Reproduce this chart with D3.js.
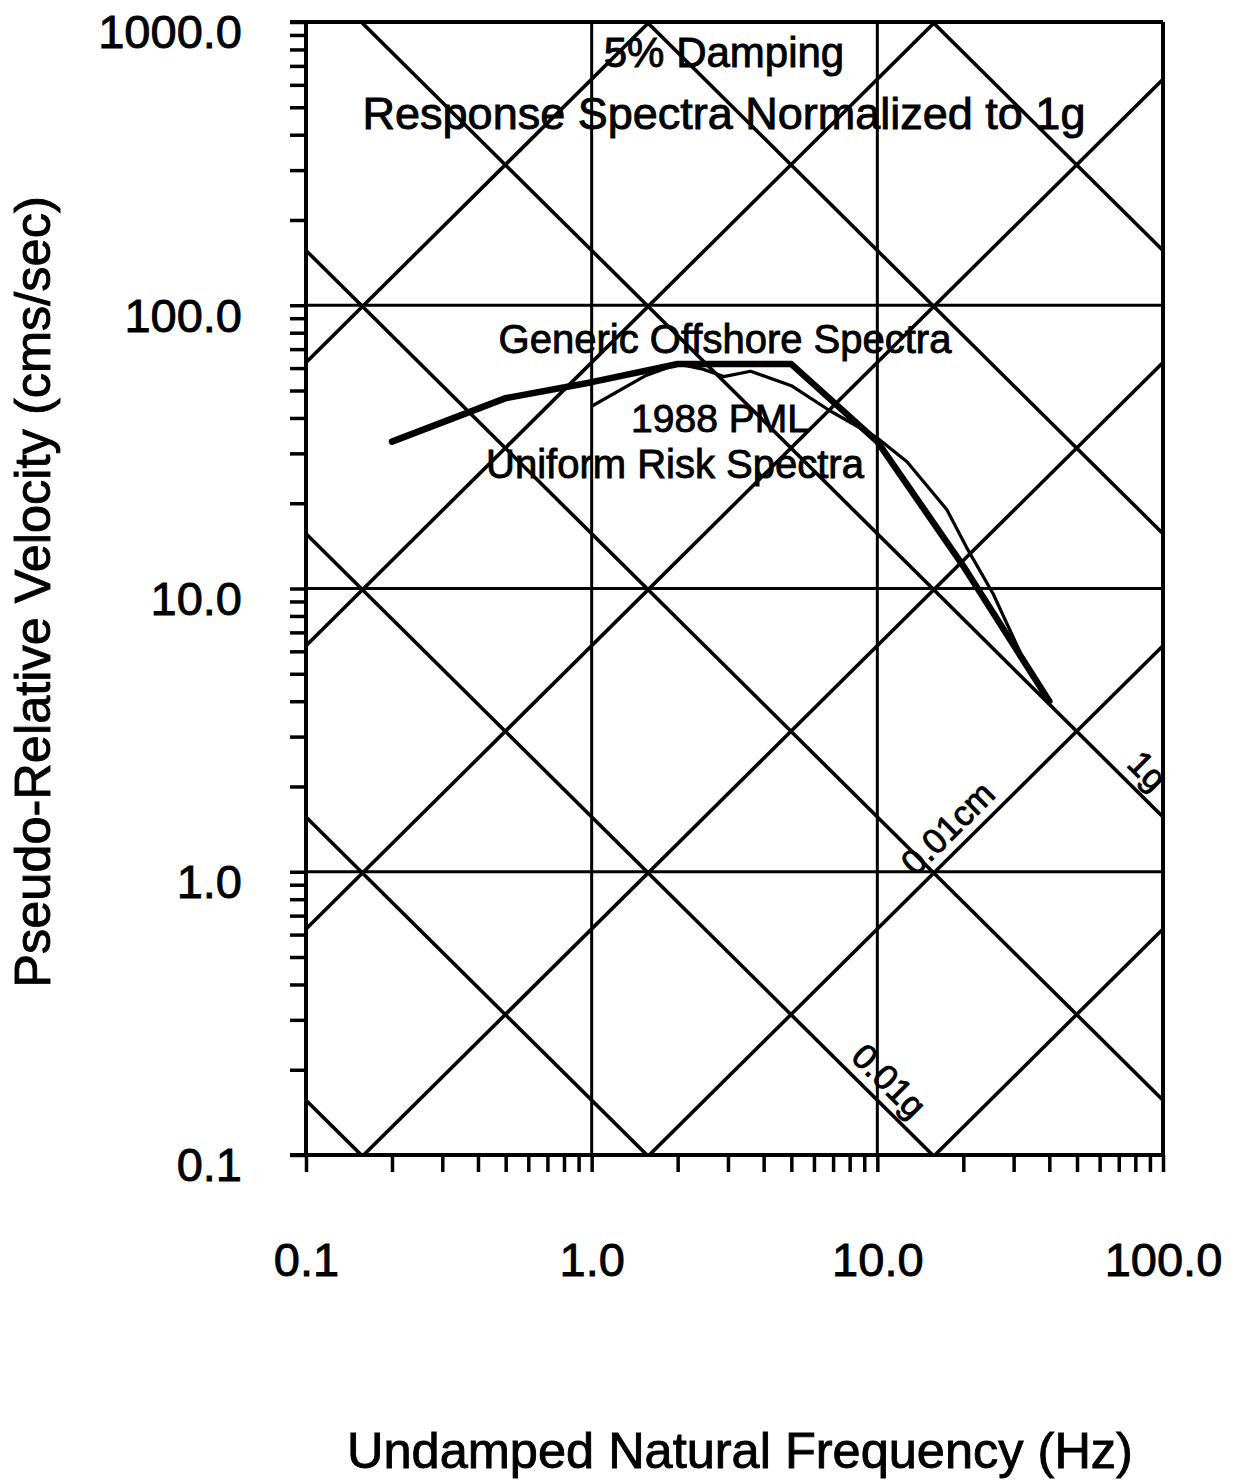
<!DOCTYPE html>
<html>
<head>
<meta charset="utf-8">
<script src="https://cdn.jsdelivr.net/npm/d3@7"></script>
<style>
body { margin: 0; background: #fff; }
text { font-family: "Liberation Sans", Arial, sans-serif; fill: #000; stroke: #000; stroke-width: 0.9px; }
</style>
</head>
<body>
<div id="chart"></div>
<script>
// axis ticks
const freqTicks = [0.1, 1, 10, 100];
const freqLabels = ["0.1", "1.0", "10.0", "100.0"];
const velTicks = [0.1, 1, 10, 100, 1000];
const velLabels = ["0.1", "1.0", "10.0", "100.0", "1000.0"];

// tripartite guide lines
const accelLines = [0.0001, 0.001, 0.01, 0.1, 1, 10, 100]; // g
const dispLines = [0.001, 0.01, 0.1, 1, 10, 100];           // cm
const GRAV = 981; // cm/s2

// Generic Offshore Spectra (thick)
const genericFreq = [0.2, 0.5, 1.0, 2.0, 5.0, 10, 20, 40];
const genericVel  = [33, 47, 53.5, 62, 62, 33, 12, 4];

// 1988 PML Uniform Risk Spectra (thin)
const pmlFreq = [1.0, 1.55, 2.0, 2.45, 2.9, 3.6, 5.0, 6.8, 10, 12.7, 17.5, 20.5, 25.4, 32, 40];
const pmlVel  = [44, 56.5, 62, 59.5, 56, 58.5, 52, 42.5, 34, 28, 19, 14, 9.6, 5.8, 4];

// labels on the guide lines
const guideLabels = [
  { text: "1g",     kind: "a", value: 1,    f: 78 },
  { text: "0.01cm", kind: "d", value: 0.01, f: 20 },
  { text: "0.01g",  kind: "a", value: 0.01, f: 9.7 }
];

const width = 1239, height = 1484;
const pLeft = 306, pRight = 1163, pTop = 22, pBottom = 1155;
const tickLen = 16;

const x = d3.scaleLog().domain([0.1, 100]).range([pLeft, pRight]);
const y = d3.scaleLog().domain([0.1, 1000]).range([pBottom, pTop]);

const svg = d3.select("#chart").append("svg")
  .attr("width", width).attr("height", height);

svg.append("defs").append("clipPath").attr("id", "plot")
  .append("rect").attr("x", pLeft).attr("y", pTop)
  .attr("width", pRight - pLeft).attr("height", pBottom - pTop);

function guideVel(kind, value, f) {
  return kind === "a" ? value * GRAV / (2 * Math.PI * f) : 2 * Math.PI * f * value;
}

// grid
const grid = svg.append("g").attr("stroke", "#000").attr("stroke-width", 3);
grid.selectAll(".vg").data(freqTicks.slice(1, -1)).enter().append("line")
  .attr("x1", d => x(d)).attr("x2", d => x(d)).attr("y1", pTop).attr("y2", pBottom);
grid.selectAll(".hg").data(velTicks.slice(1, -1)).enter().append("line")
  .attr("y1", d => y(d)).attr("y2", d => y(d)).attr("x1", pLeft).attr("x2", pRight);

// diagonal lines
const guides = accelLines.map(a => ({ kind: "a", value: a }))
  .concat(dispLines.map(d => ({ kind: "d", value: d })));
const diag = svg.append("g").attr("clip-path", "url(#plot)")
  .attr("stroke", "#000").attr("stroke-width", 3.6);
diag.selectAll("line").data(guides).enter().append("line")
  .attr("x1", x(0.1)).attr("x2", x(100))
  .attr("y1", d => y(guideVel(d.kind, d.value, 0.1)))
  .attr("y2", d => y(guideVel(d.kind, d.value, 100)));

// guide labels
guideLabels.forEach(g => {
  const px = x(g.f), py = y(guideVel(g.kind, g.value, g.f));
  const qx = x(g.f * 1.2), qy = y(guideVel(g.kind, g.value, g.f * 1.2));
  const ang = Math.atan2(qy - py, qx - px) * 180 / Math.PI;
  svg.append("text")
    .attr("transform", `translate(${px},${py}) rotate(${ang})`)
    .attr("y", -10)
    .attr("text-anchor", "middle")
    .attr("font-size", 35)
    .text(g.text);
});

// frame
const frame = svg.append("g").attr("stroke", "#000").attr("stroke-width", 4).attr("fill", "none");
frame.append("line").attr("x1", pLeft - tickLen).attr("x2", pRight).attr("y1", pTop).attr("y2", pTop);
frame.append("line").attr("x1", pLeft - tickLen).attr("x2", pRight).attr("y1", pBottom).attr("y2", pBottom);
frame.append("line").attr("x1", pLeft).attr("x2", pLeft).attr("y1", pTop).attr("y2", pBottom);
frame.append("line").attr("x1", pRight).attr("x2", pRight).attr("y1", pTop).attr("y2", pBottom);

// axes
function minorTicks(decades) {
  const t = [];
  decades.forEach((d, i) => {
    if (i === decades.length - 1) { t.push(d); return; }
    for (let k = 1; k < 10; k++) t.push(d * k);
  });
  return t;
}

const yAxis = svg.append("g").attr("transform", `translate(${pLeft},0)`)
  .call(d3.axisLeft(y).tickValues(minorTicks(velTicks)).tickSize(tickLen).tickSizeOuter(0)
    .tickPadding(48)
    .tickFormat(v => {
      const i = velTicks.findIndex(t => Math.abs(t - v) / t < 1e-6);
      return i >= 0 ? velLabels[i] : "";
    }));
yAxis.select(".domain").remove();
yAxis.selectAll("line").attr("stroke-width", 3.5);
yAxis.selectAll("text").attr("font-size", 47).attr("dy", "0.55em");
yAxis.attr("font-family", null);

const xAxis = svg.append("g").attr("transform", `translate(0,${pBottom})`)
  .call(d3.axisBottom(x).tickValues(minorTicks(freqTicks)).tickSize(17).tickSizeOuter(0)
    .tickPadding(71)
    .tickFormat(v => {
      const i = freqTicks.findIndex(t => Math.abs(t - v) / t < 1e-6);
      return i >= 0 ? freqLabels[i] : "";
    }));
xAxis.select(".domain").remove();
xAxis.selectAll("line").attr("stroke-width", 3.5);
xAxis.selectAll("text").attr("font-size", 47);
xAxis.attr("font-family", null);

// spectra
const line = d3.line().x(d => x(d[0])).y(d => y(d[1]));
svg.append("path").datum(d3.zip(pmlFreq, pmlVel))
  .attr("d", line).attr("fill", "none").attr("stroke", "#000")
  .attr("stroke-width", 3.2).attr("stroke-linejoin", "round");
svg.append("path").datum(d3.zip(genericFreq, genericVel))
  .attr("d", line).attr("fill", "none").attr("stroke", "#000")
  .attr("stroke-width", 6.5).attr("stroke-linejoin", "round").attr("stroke-linecap", "round");

// annotations
const notes = [
  { t: "5% Damping", x: 724, y: 67, s: 42 },
  { t: "Response Spectra Normalized to 1g", x: 724, y: 129, s: 45 },
  { t: "Generic Offshore Spectra", x: 725, y: 353, s: 40 },
  { t: "1988 PML", x: 720, y: 432, s: 39 },
  { t: "Uniform Risk Spectra", x: 675, y: 478, s: 40 }
];
svg.selectAll(".note").data(notes).enter().append("text")
  .attr("x", d => d.x).attr("y", d => d.y).attr("font-size", d => d.s)
  .attr("text-anchor", "middle").text(d => d.t);

// axis titles
svg.append("text").attr("x", 740).attr("y", 1468).attr("font-size", 50.5)
  .attr("text-anchor", "middle").text("Undamped Natural Frequency (Hz)");
svg.append("text").attr("transform", "translate(50,592) rotate(-90)").attr("font-size", 50.5)
  .attr("text-anchor", "middle").text("Pseudo-Relative Velocity (cms/sec)");
</script>
</body>
</html>
